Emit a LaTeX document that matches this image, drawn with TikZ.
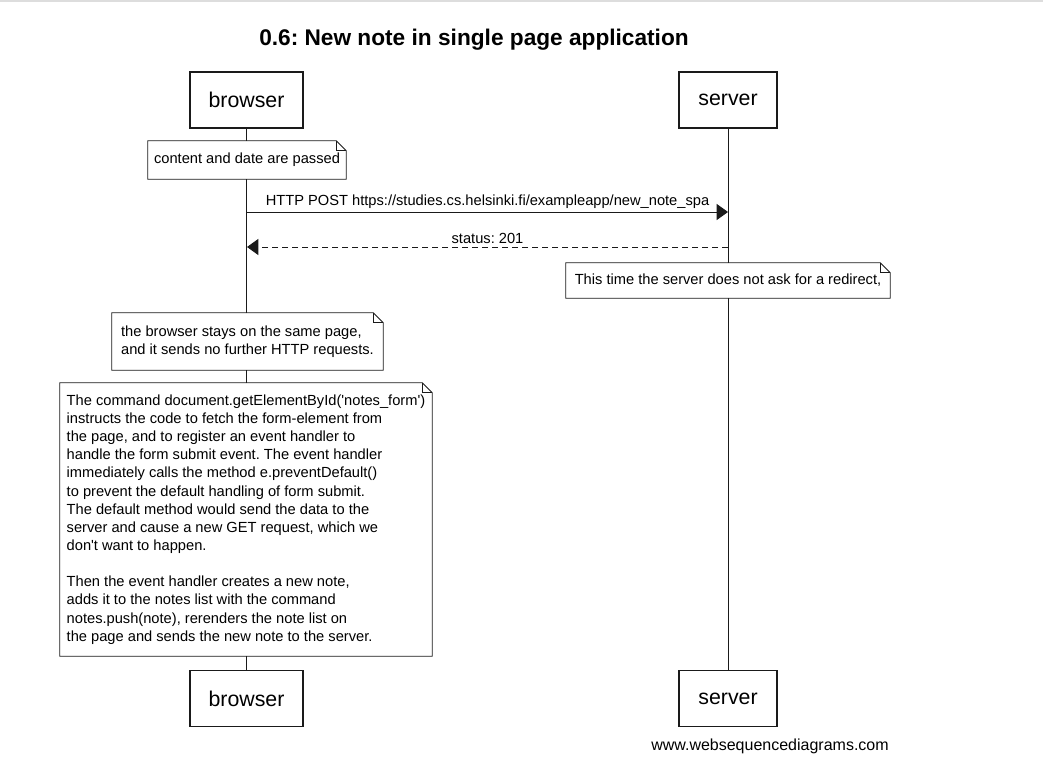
\documentclass[tikz,border=0pt]{standalone}
\usepackage{fontspec}
\setmainfont{Liberation Sans}[Ligatures=TeXOff]
\usepackage{tikz}
\usetikzlibrary{arrows.meta,positioning}
\frenchspacing
\definecolor{ink}{HTML}{000000}
\definecolor{rim}{HTML}{1A1A1A}
\definecolor{topline}{HTML}{DDDDDD}
\tikzset{
  actor/.style={draw=rim, line width=0.85pt, fill=white, minimum height=42pt, inner sep=0pt, text=ink, font=\fontsize{16}{19}\selectfont},
  life/.style={draw=rim, line width=0.7pt},
  note/.style={fill=white, align=left, inner sep=0pt, text=ink, font=\fontsize{11}{13.6}\selectfont},
  notefrm/.style={draw=rim, line width=0.7pt, line join=miter},
  msg/.style={draw=rim, line width=0.7pt, -{Triangle[length=8.5pt,width=12pt]}},
  reply/.style={msg, dash pattern=on 4.5pt off 3pt},
  lab/.style={text=ink, inner sep=1pt, font=\fontsize{11}{13.6}\selectfont},
  titl/.style={text=ink, font=\fontsize{17}{20}\selectfont\bfseries},
  foot/.style={text=ink, font=\fontsize{12}{14}\selectfont},
}
\begin{document}
\begin{tikzpicture}[x=0.75pt,y=-0.75pt]
\useasboundingbox (0,0) rectangle (1043,770);
\draw[topline, line width=1.2pt] (0,1) -- (1043,1);
\node[titl] (title) at (474,39.5) {0.6: New note in single page application};
% participants
\node[actor, minimum width=84.75pt] (bT) at (246.5,100) {browser};
\node[actor, minimum width=73.5pt] (sT) at (728,100) {server};
\node[actor, minimum width=84.75pt] (bB) at (246.5,698.5) {browser};
\node[actor, minimum width=73.5pt] (sB) at (728,698.5) {server};
\draw[life] (bT) -- (bB);
\draw[life] (sT) -- (sB);
% notes
\node[note, minimum width=148.5pt, minimum height=28.5pt] (pass) at (247,160) {content and date are passed};
\node[note, minimum width=243pt, minimum height=26.25pt] (redir) at (728,280.5) {This time the server does not ask for a redirect,};
\node[note, minimum width=203.25pt, minimum height=42.75pt] (stay) at (247.5,341.5) {the browser stays on the same page,\\and it sends no further HTTP requests.};
\node[note, minimum width=279pt, minimum height=204.75pt] (handler) at (246,519.5) {The command document.getElementById('notes\_form')\\
instructs the code to fetch the form-element from\\
the page, and to register an event handler to\\
handle the form submit event. The event handler\\
immediately calls the method e.preventDefault()\\
to prevent the default handling of form submit.\\
The default method would send the data to the\\
server and cause a new GET request, which we\\
don't want to happen.\\[13.6pt]
Then the event handler creates a new note,\\
adds it to the notes list with the command\\
notes.push(note), rerenders the note list on\\
the page and sends the new note to the server.};
\foreach \n in {pass,redir,stay,handler}{
  \draw[notefrm] (\n.south west) -- (\n.north west) -- ([xshift=-7.5pt]\n.north east)
    -- ([yshift=-7.5pt]\n.north east) -- (\n.south east) -- cycle;
  \draw[notefrm] ([xshift=-7.5pt]\n.north east) |- ([yshift=-7.5pt]\n.north east);
}
% messages
\coordinate (postB) at (247,212);
\coordinate (postS) at (728,212);
\draw[msg] (postB) -- node[lab, above=1pt] {HTTP POST https://studies.cs.helsinki.fi/exampleapp/new\_note\_spa} (postS);
\coordinate (okS) at (728,247);
\coordinate (okB) at (247,247);
\draw[reply] (okS) -- node[lab, above=1pt] {status: 201} (okB);
\node[foot] (site) at (770,746) {www.websequencediagrams.com};
\end{tikzpicture}
\end{document}
